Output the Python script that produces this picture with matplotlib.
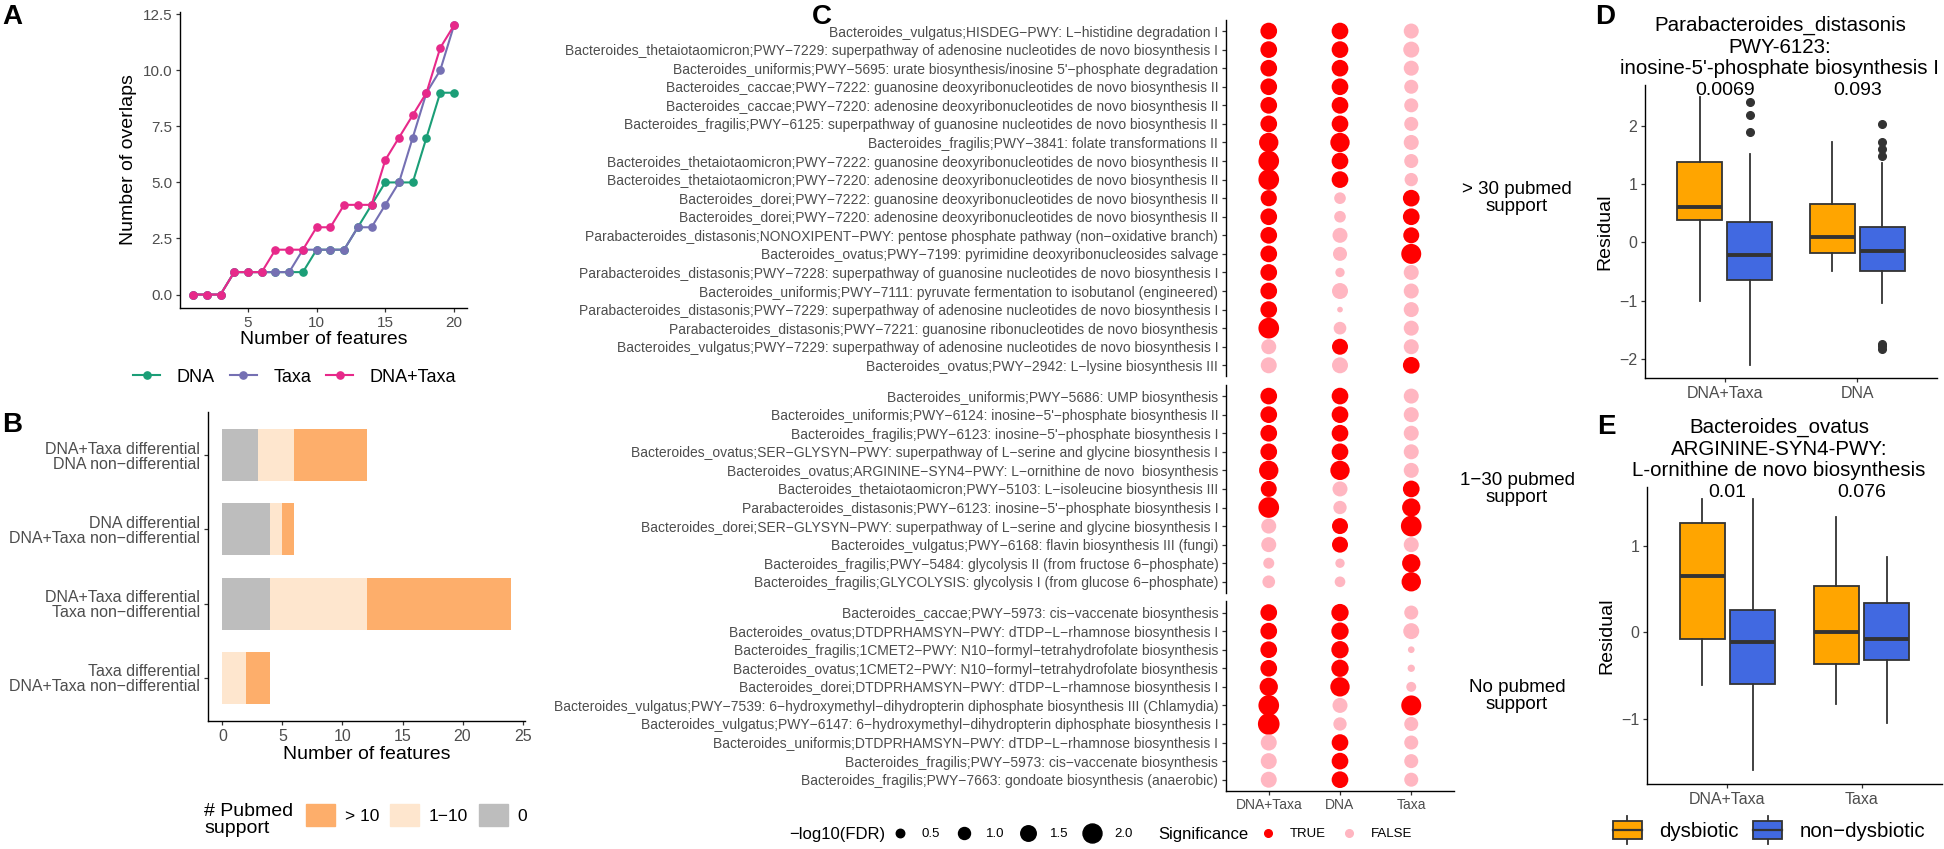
import matplotlib
matplotlib.use("Agg")
import matplotlib.pyplot as plt
from matplotlib.lines import Line2D
from matplotlib.patches import Patch, Rectangle
from matplotlib.legend_handler import HandlerBase

plt.rcParams['font.family'] = ['Liberation Sans', 'DejaVu Sans']

W, H = 1944, 849
GREY30 = '#4D4D4D'
GREY20 = '#333333'

# ---------------- data ----------------
# A: overlaps vs number of top features
n_features = [1, 2, 3, 4, 5, 6, 7, 8, 9, 10, 11, 12, 13, 14, 15, 16, 17, 18, 19, 20]
overlap_dna = [0, 0, 0, 1, 1, 1, 1, 1, 1, 2, 2, 2, 3, 4, 5, 5, 5, 7, 9, 9]
overlap_taxa = [0, 0, 0, 1, 1, 1, 1, 1, 2, 2, 2, 2, 3, 3, 4, 5, 7, 9, 10, 12]
overlap_both = [0, 0, 0, 1, 1, 1, 2, 2, 2, 3, 3, 4, 4, 4, 6, 7, 8, 9, 11, 12]

# B: pubmed support per comparison
b_categories = ["DNA+Taxa differential\nDNA non\u2212differential",
                "DNA differential\nDNA+Taxa non\u2212differential",
                "DNA+Taxa differential\nTaxa non\u2212differential",
                "Taxa differential\nDNA+Taxa non\u2212differential"]
b_zero = [3, 4, 4, 0]
b_low = [3, 1, 8, 2]
b_high = [6, 1, 12, 2]

# C: pathway features, -log10(FDR) per model and significance
c_models = ["DNA+Taxa", "DNA", "Taxa"]
c_groups = ["> 30 pubmed\nsupport", "1\u221230 pubmed\nsupport", "No pubmed\nsupport"]
c_group_sizes = [19, 11, 10]
c_labels = [
    "Bacteroides_vulgatus;HISDEG\u2212PWY: L\u2212histidine degradation I",
    "Bacteroides_thetaiotaomicron;PWY\u22127229: superpathway of adenosine nucleotides de novo biosynthesis I",
    "Bacteroides_uniformis;PWY\u22125695: urate biosynthesis/inosine 5'\u2212phosphate degradation",
    "Bacteroides_caccae;PWY\u22127222: guanosine deoxyribonucleotides de novo biosynthesis II",
    "Bacteroides_caccae;PWY\u22127220: adenosine deoxyribonucleotides de novo biosynthesis II",
    "Bacteroides_fragilis;PWY\u22126125: superpathway of guanosine nucleotides de novo biosynthesis II",
    "Bacteroides_fragilis;PWY\u22123841: folate transformations II",
    "Bacteroides_thetaiotaomicron;PWY\u22127222: guanosine deoxyribonucleotides de novo biosynthesis II",
    "Bacteroides_thetaiotaomicron;PWY\u22127220: adenosine deoxyribonucleotides de novo biosynthesis II",
    "Bacteroides_dorei;PWY\u22127222: guanosine deoxyribonucleotides de novo biosynthesis II",
    "Bacteroides_dorei;PWY\u22127220: adenosine deoxyribonucleotides de novo biosynthesis II",
    "Parabacteroides_distasonis;NONOXIPENT\u2212PWY: pentose phosphate pathway (non\u2212oxidative branch)",
    "Bacteroides_ovatus;PWY\u22127199: pyrimidine deoxyribonucleosides salvage",
    "Parabacteroides_distasonis;PWY\u22127228: superpathway of guanosine nucleotides de novo biosynthesis I",
    "Bacteroides_uniformis;PWY\u22127111: pyruvate fermentation to isobutanol (engineered)",
    "Parabacteroides_distasonis;PWY\u22127229: superpathway of adenosine nucleotides de novo biosynthesis I",
    "Parabacteroides_distasonis;PWY\u22127221: guanosine ribonucleotides de novo biosynthesis",
    "Bacteroides_vulgatus;PWY\u22127229: superpathway of adenosine nucleotides de novo biosynthesis I",
    "Bacteroides_ovatus;PWY\u22122942: L\u2212lysine biosynthesis III",
    "Bacteroides_uniformis;PWY\u22125686: UMP biosynthesis",
    "Bacteroides_uniformis;PWY\u22126124: inosine\u22125'\u2212phosphate biosynthesis II",
    "Bacteroides_fragilis;PWY\u22126123: inosine\u22125'\u2212phosphate biosynthesis I",
    "Bacteroides_ovatus;SER\u2212GLYSYN\u2212PWY: superpathway of L\u2212serine and glycine biosynthesis I",
    "Bacteroides_ovatus;ARGININE\u2212SYN4\u2212PWY: L\u2212ornithine de novo  biosynthesis",
    "Bacteroides_thetaiotaomicron;PWY\u22125103: L\u2212isoleucine biosynthesis III",
    "Parabacteroides_distasonis;PWY\u22126123: inosine\u22125'\u2212phosphate biosynthesis I",
    "Bacteroides_dorei;SER\u2212GLYSYN\u2212PWY: superpathway of L\u2212serine and glycine biosynthesis I",
    "Bacteroides_vulgatus;PWY\u22126168: flavin biosynthesis III (fungi)",
    "Bacteroides_fragilis;PWY\u22125484: glycolysis II (from fructose 6\u2212phosphate)",
    "Bacteroides_fragilis;GLYCOLYSIS: glycolysis I (from glucose 6\u2212phosphate)",
    "Bacteroides_caccae;PWY\u22125973: cis\u2212vaccenate biosynthesis",
    "Bacteroides_ovatus;DTDPRHAMSYN\u2212PWY: dTDP\u2212L\u2212rhamnose biosynthesis I",
    "Bacteroides_fragilis;1CMET2\u2212PWY: N10\u2212formyl\u2212tetrahydrofolate biosynthesis",
    "Bacteroides_ovatus;1CMET2\u2212PWY: N10\u2212formyl\u2212tetrahydrofolate biosynthesis",
    "Bacteroides_dorei;DTDPRHAMSYN\u2212PWY: dTDP\u2212L\u2212rhamnose biosynthesis I",
    "Bacteroides_vulgatus;PWY\u22127539: 6\u2212hydroxymethyl\u2212dihydropterin diphosphate biosynthesis III (Chlamydia)",
    "Bacteroides_vulgatus;PWY\u22126147: 6\u2212hydroxymethyl\u2212dihydropterin diphosphate biosynthesis I",
    "Bacteroides_uniformis;DTDPRHAMSYN\u2212PWY: dTDP\u2212L\u2212rhamnose biosynthesis I",
    "Bacteroides_fragilis;PWY\u22125973: cis\u2212vaccenate biosynthesis",
    "Bacteroides_fragilis;PWY\u22127663: gondoate biosynthesis (anaerobic)",
]
fdr_both = [1.67, 1.67, 1.67, 1.67, 1.67, 1.67, 2.05, 2.24, 2.24, 1.6, 1.67, 1.67, 1.67, 1.67, 1.67, 1.67, 2.24, 1.43, 1.57,
            1.67, 1.67, 1.67, 1.67, 2.05, 1.57, 2.24, 1.43, 1.43, 0.86, 1.1,
            1.67, 1.67, 1.67, 1.67, 1.9, 2.24, 2.38, 1.57, 1.57, 1.57]
fdr_dna = [1.67, 1.67, 1.67, 1.67, 1.67, 1.67, 2.05, 1.67, 1.67, 0.95, 0.95, 1.43, 1.29, 0.62, 1.57, 0.1, 1.1, 1.57, 1.57,
           1.67, 1.67, 1.67, 1.67, 2.05, 1.43, 1.19, 1.57, 1.57, 0.62, 0.81,
           1.76, 1.76, 1.76, 1.76, 2.05, 1.43, 1.19, 1.67, 1.67, 1.67]
fdr_taxa = [1.43, 1.57, 1.43, 1.29, 1.29, 1.29, 1.43, 1.29, 1.19, 1.67, 1.67, 1.57, 2.14, 1.43, 1.43, 1.43, 1.43, 1.43, 1.67,
            1.43, 1.43, 1.43, 1.43, 1.43, 1.67, 1.9, 2.24, 1.43, 1.9, 2.05,
            1.29, 1.57, 0.24, 0.33, 0.71, 2.14, 1.29, 1.29, 1.29, 1.29]
sig_both = [1, 1, 1, 1, 1, 1, 1, 1, 1, 1, 1, 1, 1, 1, 1, 1, 1, 0, 0,
            1, 1, 1, 1, 1, 1, 1, 0, 0, 0, 0,
            1, 1, 1, 1, 1, 1, 1, 0, 0, 0]
sig_dna = [1, 1, 1, 1, 1, 1, 1, 1, 1, 0, 0, 0, 0, 0, 0, 0, 0, 1, 0,
           1, 1, 1, 1, 1, 0, 0, 1, 1, 0, 0,
           1, 1, 1, 1, 1, 0, 0, 1, 1, 1]
sig_taxa = [0, 0, 0, 0, 0, 0, 0, 0, 0, 1, 1, 1, 1, 0, 0, 0, 0, 0, 1,
            0, 0, 0, 0, 0, 1, 1, 1, 0, 1, 1,
            0, 0, 0, 0, 0, 1, 0, 0, 0, 0]
size_breaks = [0.5, 1.0, 1.5, 2.0]

# D / E: residual box summaries (whislo, q1, med, q3, whishi)
d_title = "Parabacteroides_distasonis\nPWY-6123:\ninosine-5'-phosphate biosynthesis I"
d_models = ["DNA+Taxa", "DNA"]
d_pvals = ["0.0069", "0.093"]
d_dys = [[-1.0, 0.39, 0.61, 1.37, 2.50], [-0.50, -0.18, 0.09, 0.65, 1.72]]
d_non = [[-2.10, -0.64, -0.21, 0.35, 1.52], [-1.05, -0.50, -0.15, 0.26, 1.36]]
d_dys_out = [[], []]
d_non_out = [[1.89, 2.18, 2.40], [2.03, 1.72, 1.60, 1.48, -1.74, -1.78, -1.84]]

e_title = "Bacteroides_ovatus\nARGININE-SYN4-PWY:\nL-ornithine de novo biosynthesis"
e_models = ["DNA+Taxa", "Taxa"]
e_pvals = ["0.01", "0.076"]
e_dys = [[-0.61, -0.07, 0.65, 1.26, 1.54], [-0.83, -0.36, 0.01, 0.54, 1.33]]
e_non = [[-1.59, -0.60, -0.11, 0.26, 1.54], [-1.05, -0.32, -0.08, 0.34, 0.87]]
e_dys_out = [[], []]
e_non_out = [[], []]


def px_box(left, top, right, bottom):
    return [left / W, 1 - bottom / H, (right - left) / W, (bottom - top) / H]


def classic(ax, size=11.5):
    for s in ['top', 'right']:
        ax.spines[s].set_visible(False)
    for s in ['left', 'bottom']:
        ax.spines[s].set_linewidth(1.0)
    ax.tick_params(length=3, width=0.9, color=GREY20, labelcolor=GREY30, labelsize=size, pad=2.5)


def dot_size(v):
    d = 5 + 7 * v          # diameter in px
    return (d * 0.72) ** 2  # points^2 at 100 dpi


fig = plt.figure(figsize=(W / 100, H / 100), dpi=100)

# ---------------- A ----------------
axA = fig.add_axes(px_box(180, 12, 467, 308))
for vals, col, lab in [(overlap_dna, '#1B9E77', 'DNA'), (overlap_taxa, '#7570B3', 'Taxa'),
                       (overlap_both, '#E7298A', 'DNA+Taxa')]:
    axA.plot(n_features, vals, color=col, lw=1.5, marker='o', ms=5.2, label=lab)
axA.set_xlim(0.05, 20.95)
axA.set_ylim(-0.6, 12.6)
axA.set_xticks([5, 10, 15, 20])
axA.set_yticks([0, 2.5, 5, 7.5, 10, 12.5])
axA.set_yticklabels(['0.0', '2.5', '5.0', '7.5', '10.0', '12.5'])
classic(axA, 11)
axA.set_xlabel("Number of features", fontsize=14, labelpad=1)
axA.set_ylabel("Number of overlaps", fontsize=14, labelpad=4)
h, l = axA.get_legend_handles_labels()
fig.legend(h, l, loc='center left', bbox_to_anchor=(133 / W, 1 - 377 / H), ncol=3, frameon=False,
           fontsize=13, handlelength=1.5, handletextpad=0.9, columnspacing=0.85,
           borderpad=0, borderaxespad=0)

# ---------------- B ----------------
axB = fig.add_axes(px_box(208, 412, 525, 721))
yb = [4, 3, 2, 1]
left_low = [a for a in b_zero]
left_high = [a + b for a, b in zip(b_zero, b_low)]
axB.barh(yb, b_zero, height=0.7, color='#BDBDBD')
axB.barh(yb, b_low, left=left_low, height=0.7, color='#FEE6CE')
axB.barh(yb, b_high, left=left_high, height=0.7, color='#FDAE6B')
axB.set_xlim(-1.2, 25.2)
axB.set_ylim(0.42, 4.58)
axB.set_yticks(yb)
axB.set_yticklabels(b_categories, linespacing=1.0)
axB.set_xticks([0, 5, 10, 15, 20, 25])
classic(axB, 11.5)
axB.set_xlabel("Number of features", fontsize=14, labelpad=2)
fig.text(204 / W, 1 - 820 / H, "# Pubmed\nsupport", fontsize=14, ha='left', va='center', linespacing=1.0)
fig.legend([Patch(color='#FDAE6B'), Patch(color='#FEE6CE'), Patch(color='#BDBDBD')],
           ['> 10', '1\u221210', '0'], loc='center left', bbox_to_anchor=(306 / W, 1 - 815 / H),
           ncol=3, frameon=False, fontsize=12.5, handlelength=1.65, handleheight=1.65,
           handletextpad=0.57, columnspacing=0.65, borderpad=0, borderaxespad=0)

# ---------------- C ----------------
row_px = 18.57
top_px = 19.9
gap_px = 8.5
start = 0
for gi, (gname, n) in enumerate(zip(c_groups, c_group_sizes)):
    height = (n + 0.2) * row_px
    ax = fig.add_axes(px_box(1226, top_px, 1454, top_px + height))
    ys = [n - i for i in range(n)]
    sl = slice(start, start + n)
    for xi, (vals, sig) in enumerate([(fdr_both, sig_both), (fdr_dna, sig_dna), (fdr_taxa, sig_taxa)]):
        v = vals[sl]
        cols = ['#FF0000' if s else '#FFB6C1' for s in sig[sl]]
        ax.scatter([xi + 1] * n, ys, s=[dot_size(a) for a in v], c=cols, linewidths=0)
    ax.set_xlim(0.4, 3.6)
    ax.set_ylim(0.4, n + 0.6)
    ax.set_yticks(ys)
    ax.set_yticklabels(c_labels[sl])
    classic(ax, 10)
    if gi < 2:
        ax.spines['bottom'].set_visible(False)
        ax.set_xticks([])
    else:
        ax.set_xticks([1, 2, 3])
        ax.set_xticklabels(c_models)
    fig.text(1517 / W, 1 - (top_px + height / 2) / H, gname, fontsize=13.5,
             ha='center', va='center', linespacing=1.0)
    top_px += height + gap_px
    start += n

fig.text(789 / W, 1 - 834 / H, "\u2212log10(FDR)", fontsize=12, ha='left', va='center')
fig.legend([Line2D([], [], ls='', marker='o', color='black', ms=(5 + 7 * b) * 0.72) for b in size_breaks],
           [str(b) for b in size_breaks], loc='center left', bbox_to_anchor=(893 / W, 1 - 834 / H),
           ncol=4, frameon=False, fontsize=9.5, handlelength=1.0, handletextpad=1.17,
           columnspacing=1.29, borderpad=0, borderaxespad=0)
fig.text(1158 / W, 1 - 834 / H, "Significance", fontsize=12, ha='left', va='center')
fig.legend([Line2D([], [], ls='', marker='o', color=c, ms=5.5) for c in ['#FF0000', '#FFB6C1']],
           ['TRUE', 'FALSE'], loc='center left', bbox_to_anchor=(1261 / W, 1 - 834 / H),
           ncol=2, frameon=False, fontsize=9.5, handlelength=1.0, handletextpad=1.17,
           columnspacing=1.24, borderpad=0, borderaxespad=0)


# ---------------- D / E ----------------
def box_panel(rect, title, models, pvals, dys, non, dys_out, non_out, ylim, yticks, pv_y, title_x):
    ax = fig.add_axes(px_box(*rect))
    stats, pos, cols = [], [], []
    for i in range(len(models)):
        for st, out, off, col in [(dys[i], dys_out[i], -0.1875, '#FFA500'),
                                  (non[i], non_out[i], 0.1875, '#4169E1')]:
            stats.append(dict(whislo=st[0], q1=st[1], med=st[2], q3=st[3], whishi=st[4], fliers=out))
            pos.append(i + 1 + off)
            cols.append(col)
    bp = ax.bxp(stats, positions=pos, widths=0.34, patch_artist=True, showcaps=False,
                boxprops=dict(edgecolor=GREY20, linewidth=1.3),
                medianprops=dict(color=GREY20, linewidth=2.8),
                whiskerprops=dict(color=GREY20, linewidth=1.3),
                flierprops=dict(marker='o', markerfacecolor=GREY20, markeredgecolor=GREY20, markersize=5.5))
    for b, c in zip(bp['boxes'], cols):
        b.set_facecolor(c)
    for i, p in enumerate(pvals):
        ax.text(i + 1, pv_y, p, ha='center', va='center', fontsize=14)
    ax.set_xlim(0.4, 2.6)
    ax.set_ylim(*ylim)
    ax.set_yticks(yticks)
    ax.set_yticklabels([str(t).replace('-', '\u2212') for t in yticks])
    ax.set_xticks([1, 2])
    ax.set_xticklabels(models)
    classic(ax, 11.5)
    ax.set_ylabel("Residual", fontsize=14, labelpad=4)
    ax.set_title(title, fontsize=14.8, linespacing=1.15, x=title_x, pad=8)
    return ax


box_panel((1645, 85, 1937, 378), d_title, d_models, d_pvals, d_dys, d_non, d_dys_out, d_non_out,
          (-2.33, 2.70), [-2, -1, 0, 1, 2], 2.61, 0.462)
box_panel((1647, 487, 1942, 784), e_title, e_models, e_pvals, e_dys, e_non, e_dys_out, e_non_out,
          (-1.75, 1.68), [-1, 0, 1], 1.62, 0.448)


class BoxKey(HandlerBase):
    def create_artists(self, legend, orig_handle, xdescent, ydescent, width, height, fontsize, trans):
        x0, y0 = -xdescent, -ydescent
        rect = Rectangle((x0, y0 + 0.18 * height), width, 0.64 * height, facecolor=orig_handle.get_facecolor(),
                         edgecolor=GREY20, lw=1.3, transform=trans)
        mid = Line2D([x0, x0 + width], [y0 + 0.5 * height] * 2, color=GREY20, lw=1.6, transform=trans)
        up = Line2D([x0 + width / 2] * 2, [y0 + 0.82 * height, y0 + height], color=GREY20, lw=1.3, transform=trans)
        lo = Line2D([x0 + width / 2] * 2, [y0, y0 + 0.18 * height], color=GREY20, lw=1.3, transform=trans)
        return [up, lo, rect, mid]


fig.legend([Patch(facecolor='#FFA500'), Patch(facecolor='#4169E1')], ['dysbiotic', 'non\u2212dysbiotic'],
           handler_map={Patch: BoxKey()}, loc='center left', bbox_to_anchor=(1613 / W, 1 - 830 / H),
           ncol=2, frameon=False, fontsize=14.8, handlelength=1.41, handleheight=1.65,
           handletextpad=0.85, columnspacing=0.7, borderpad=0, borderaxespad=0)

# panel letters
for letter, x, y in [('A', 2, 17), ('B', 2, 425), ('C', 812, 17), ('D', 1595, 17), ('E', 1597, 427)]:
    fig.text(x / W, 1 - y / H, letter, fontsize=20, fontweight='bold', ha='left', va='center')

fig.savefig("out.png", dpi=100)
